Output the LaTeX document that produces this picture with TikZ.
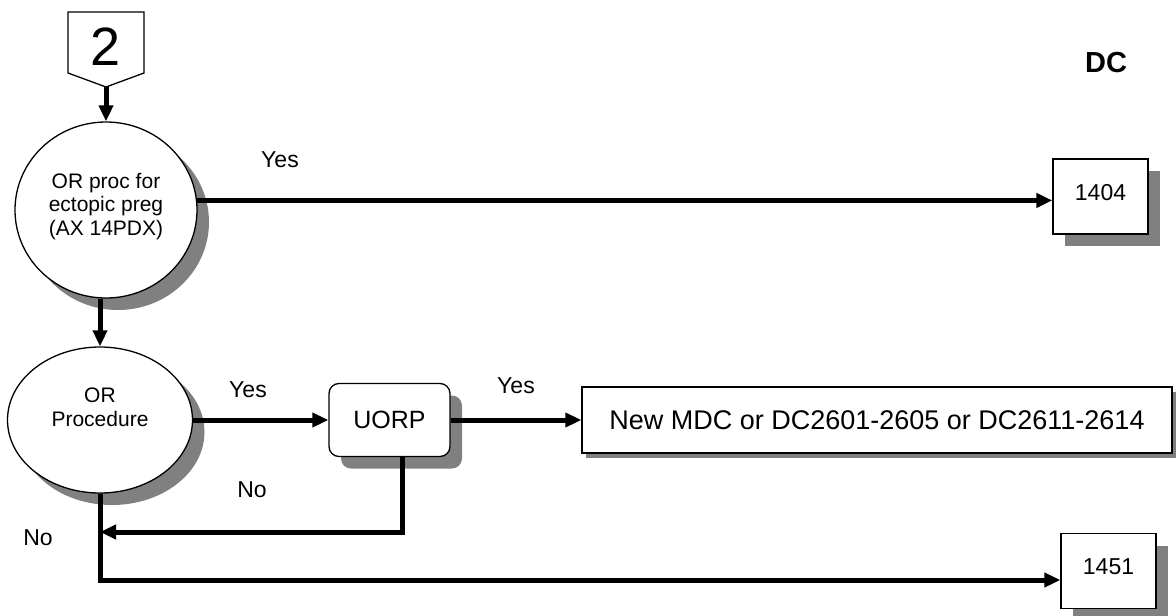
\documentclass[tikz,border=0pt]{standalone}
\usepackage{fontspec}
\setmainfont{Liberation Sans}
\usetikzlibrary{arrows.meta,shadows,shapes.geometric}
\tikzset{
  >={Triangle[length=16pt,width=14pt]},
  flow/.style={->, line width=5pt},
  shade box/.style={drop shadow={shadow xshift=12pt, shadow yshift=-12pt, fill=gray, opacity=1}},
  decision/.style={draw, ellipse, fill=white, line width=1.3pt, align=center, inner sep=0pt,
    font=\fontsize{21}{23.5}\selectfont, shade box},
  numbox/.style={draw, rectangle, fill=white, line width=1.3pt, minimum width=95pt, minimum height=75pt,
    font=\fontsize{23}{27}\selectfont, text height=17pt, text depth=10pt, shade box},
  procbox/.style={draw, rectangle, rounded corners=10pt, fill=white, line width=1.3pt,
    minimum width=121pt, minimum height=73pt, font=\fontsize{25}{30}\selectfont, shade box},
  endbox/.style={draw, rectangle, fill=white, line width=1.3pt, minimum width=590pt, minimum height=66pt,
    font=\fontsize{27}{32}\selectfont,
    drop shadow={shadow xshift=4pt, shadow yshift=-5pt, fill=gray, opacity=1}},
  lbl/.style={font=\fontsize{23}{27}\selectfont},
}
\begin{document}
\begin{tikzpicture}[x=1pt, y=-1pt]
    \useasboundingbox (0,0) rectangle (1176,616);
    % off-page connector
    \draw[line width=1.3pt] (68,12) -- (144,12) -- (144,73) -- (106,87) -- (68,73) -- cycle;
    \node[font=\fontsize{54}{60}\selectfont] (off2) at (106,47) {2};
    \coordinate (tip2) at (106,87);
    \node[font=\bfseries\fontsize{29}{34}\selectfont] (dc) at (1106,63) {DC};
    % nodes
    \node[decision, minimum width=182pt, minimum height=176pt] (ectopic) at (106,210)
      {\raisebox{3pt}[\height][\depth]{\begin{tabular}{@{}c@{}}OR proc for\\ectopic preg\\(AX 14PDX)\end{tabular}}};
    \node[decision, minimum width=185pt, minimum height=146pt] (orproc) at (100,420)
      {\raisebox{10pt}[\height][\depth]{\begin{tabular}{@{}c@{}}OR\\Procedure\end{tabular}}};
    \node[procbox] (uorp) at (389.5,420) {UORP};
    \node[endbox] (newdc) at (877,420) {New MDC or DC2601-2605 or DC2611-2614};
    \node[numbox] (n1404) at (1100.5,196.5) {1404};
    \node[numbox] (n1451) at (1108.5,571) {1451};
    \coordinate (drop) at (402,532);
    \coordinate (back) at (100,532);
    \coordinate (low) at (100,580);
    % connectors
    \draw[flow] (tip2) -- (ectopic.north);
    \draw[flow] (ectopic.6) -- (ectopic.6 -| n1404.west);
    \draw[flow] (orproc.north |- ectopic.south) -- (orproc.north);
    \draw[flow] (orproc.east) -- (uorp.west);
    \draw[flow] (uorp.east) -- (newdc.west);
    \draw[flow] (uorp.south -| drop) -- (drop) -- (back);
    \draw[flow] (orproc.south) -- (low) -- (low -| n1451.west);
    % labels
    \node[lbl] (yes1) at (280,160) {Yes};
    \node[lbl] (yes2) at (248,390) {Yes};
    \node[lbl] (yes3) at (516,386) {Yes};
    \node[lbl] (no1) at (252,490) {No};
    \node[lbl] (no2) at (38,538) {No};
\end{tikzpicture}
\end{document}
